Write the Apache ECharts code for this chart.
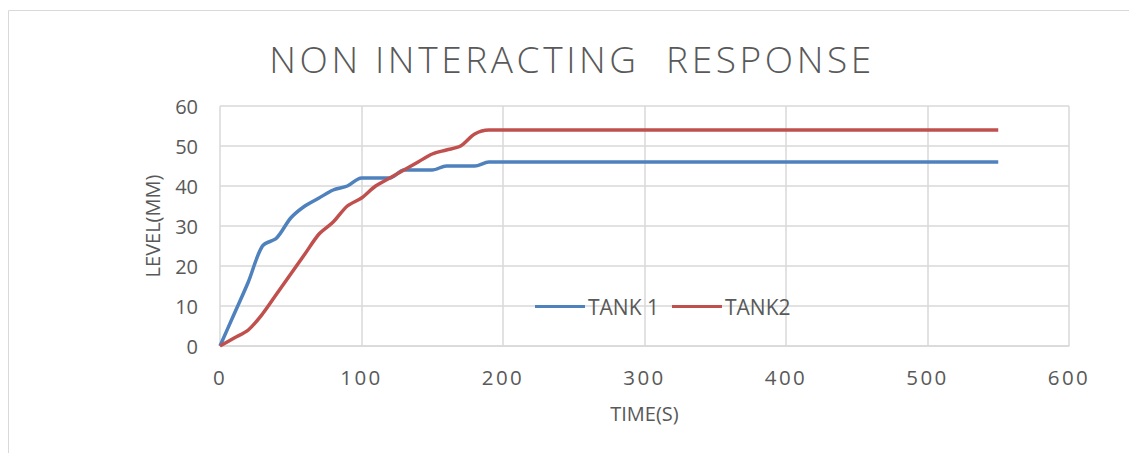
<!DOCTYPE html>
<html><head><meta charset="utf-8">
<script src="https://cdn.jsdelivr.net/npm/echarts@6/dist/echarts.min.js"></script>
<style>
html,body{margin:0;padding:0;background:#fff}#c{width:1129px;height:453px}
#c text[style*="37px"]{letter-spacing:3.6px}
#c text[style*="20.5px"]{letter-spacing:2.5px}
</style>
</head><body><div id="c"></div>
<script>
const times = [0,10,20,30,40,50,60,70,80,90,100,110,120,130,140,150,160,170,180,190,550];
const tank1 = [0,8,16,25,27,32,35,37,39,40,42,42,42,44,44,44,45,45,45,46,46];
const tank2 = [0,2,4,8,13,18,23,28,31,35,37,40,42,44,46,48,49,50,53,54,54];
const titleText = 'NON INTERACTING  RESPONSE';
const xName = 'TIME(S)', yName = 'LEVEL(MM)';
const seriesNames = ['TANK 1','TANK2'];

const chart = echarts.init(document.getElementById('c'), null, {renderer:'svg'});
const txt = '#595959', grid = '#d9d9d9';
const F = 'Open Sans';
chart.setOption({
  animation:false,
  color:['#4f81bd','#c0504d'],
  graphic:[
    {type:'rect',shape:{x:8.5,y:10.5,width:1200,height:500},style:{fill:'none',stroke:grid,lineWidth:1},silent:true},
    {type:'text',x:572,y:58,silent:true,style:{text:titleText,fill:txt,font:'300 37px "Open Sans"',textAlign:'center',textVerticalAlign:'middle'}}
  ],
  legend:{left:530,top:291,itemWidth:50,itemHeight:3,itemGap:13,icon:'rect',
    textStyle:{fontFamily:F,fontSize:21,color:txt,padding:[0,0,0,-2]}, data:seriesNames},
  grid:{left:220,right:60,top:106,bottom:107},
  xAxis:{type:'value',min:0,max:600,interval:100,name:xName,nameLocation:'middle',nameGap:57,
    nameTextStyle:{fontFamily:F,fontSize:20,color:txt},
    axisLine:{show:true,lineStyle:{color:grid,width:1.5}},axisTick:{show:false},
    axisLabel:{fontFamily:F,fontSize:20.5,color:txt,margin:20},
    splitLine:{show:true,lineStyle:{color:grid,width:1.5}}},
  yAxis:{type:'value',min:0,max:60,interval:10,name:yName,nameLocation:'middle',nameGap:58,nameRotate:90,
    nameTextStyle:{fontFamily:F,fontSize:20,color:txt},
    axisLine:{show:false},axisTick:{show:false},
    axisLabel:{fontFamily:F,fontSize:20,color:txt,margin:22},
    splitLine:{show:true,lineStyle:{color:grid,width:1.5}}},
  series:[
    {name:seriesNames[0],type:'line',smooth:0.3,showSymbol:false,lineStyle:{width:3.5},data:times.map((t,i)=>[t,tank1[i]])},
    {name:seriesNames[1],type:'line',smooth:0.3,showSymbol:false,lineStyle:{width:3.5},data:times.map((t,i)=>[t,tank2[i]])}
  ]
});
</script></body></html>
